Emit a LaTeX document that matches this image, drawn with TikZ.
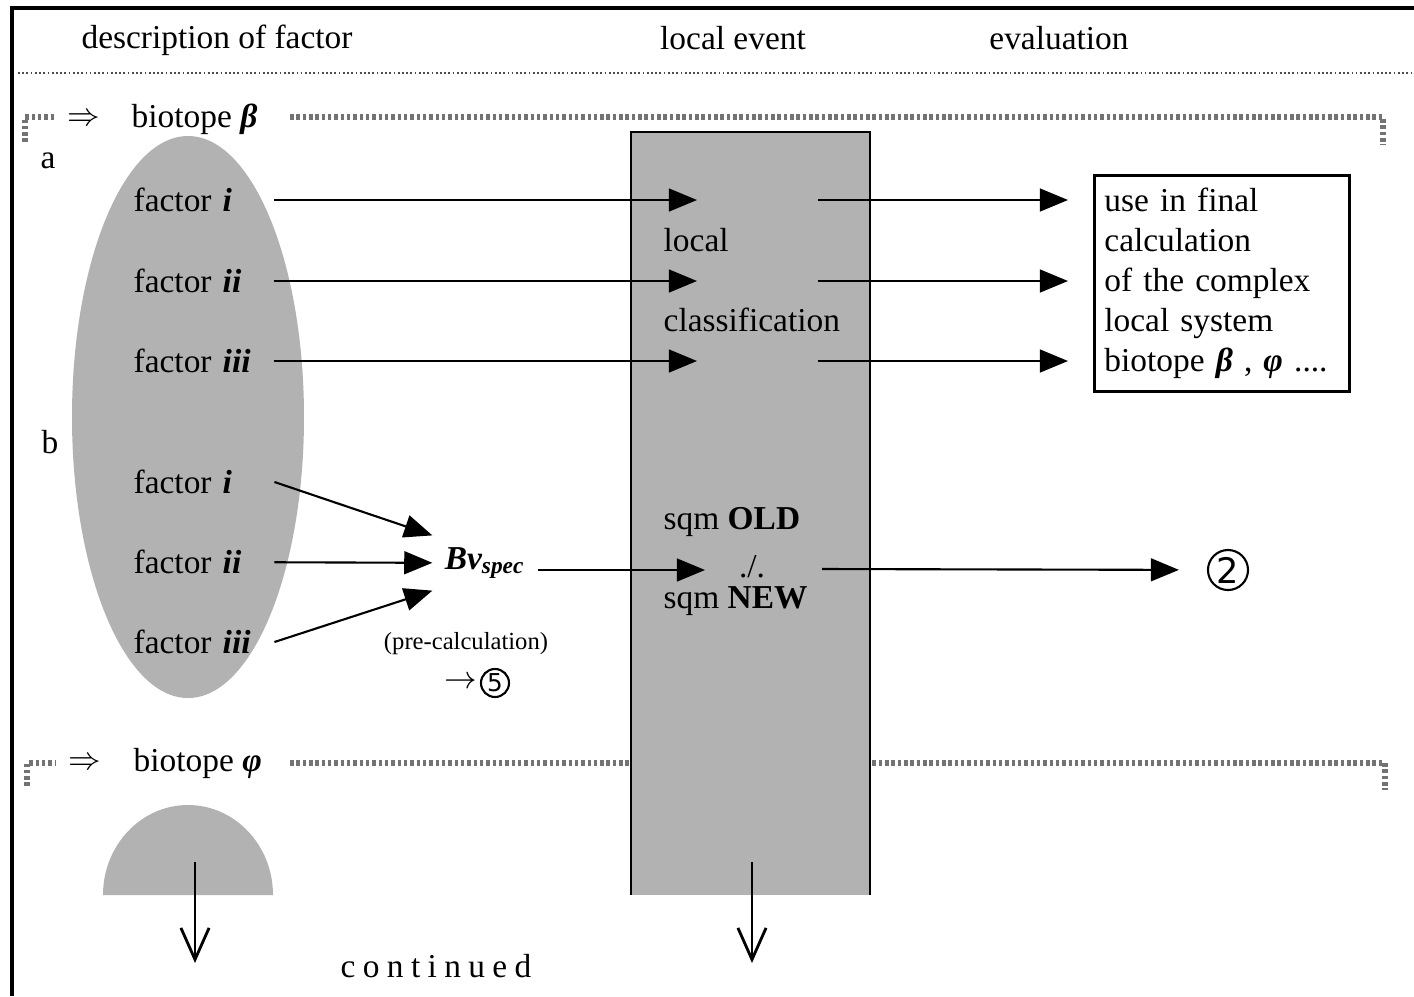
\documentclass[tikz,border=0pt]{standalone}
\usepackage{fontspec}
\setmainfont{Liberation Serif}
\newfontfamily\circfont{DejaVu Sans}
\usetikzlibrary{arrows.meta}

\begin{document}
\begin{tikzpicture}[x=0.01cm,y=-0.01cm,font=\fontsize{9.5}{11.4}\selectfont,
	fl/.style={semithick,-{Triangle[length=8pt,width=6.5pt]}},
	down/.style={thick,-{Straight Barb[length=9pt,width=8pt]}},
	trama/.style={fill=black!30},
	puntos/.style={line width=1.6pt,black!55,dash pattern=on 1pt off 0.8pt},
	sepline/.style={line width=0.6pt,black!70,dash pattern=on 0.5pt off 0.7pt},
	fac/.style={anchor=west,inner sep=0pt,text width=1.4cm},
	circnum/.style={circle,draw,semithick,inner sep=0pt,font=\circfont}]
	\useasboundingbox (0,0) rectangle (1414,996);
	%marco y cabecera
	\draw[line width=0.9pt] (12,996) -- (12,8) -- (1414,8);
	\draw[sepline] (18,73) -- (1414,73);
	\node (desc) at (217,40) {description of factor};
	\node (evento) at (733,38) {local event};
	\node (eval) at (1059,38) {evaluation};
	%biotopo beta
	\draw[puntos] (25,142) -- (25,117) -- (55,117);
	\node (implb) at (84,120) {$\Rightarrow$};
	\node[anchor=west,inner sep=0pt] (biob) at (131,119) {biotope \textbf{\textit{β}}};
	\draw[puntos] (290,117) -- (1383,117) -- (1383,145);
	%biotopo phi
	\draw[puntos] (27,786) -- (27,763) -- (55,763);
	\node (implp) at (85,764) {$\Rightarrow$};
	\node[anchor=west,inner sep=0pt] (biop) at (133,763) {biotope \textbf{\textit{φ}}};
	\draw[puntos] (290,763) -- (1385,763) -- (1385,790);
	%zonas grises
	\fill[trama] (188,417) ellipse [x radius=116, y radius=281];
	\fill[trama] (103,895) arc [start angle=180, end angle=360, x radius=85, y radius=90] -- cycle;
	\fill[trama] (631,132) rectangle (870,895);
	\draw[thick] (631,895) -- (631,132) -- (870,132) -- (870,895);
	\node (la) at (48,161) {a};
	\node (lb) at (50,442) {b};
	%caso a
	\node[fac] (fai) at (133,200) {factor \textbf{\textit{i}}};
	\node[fac] (faii) at (133,281) {factor \textbf{\textit{ii}}};
	\node[fac] (faiii) at (133,361) {factor \textbf{\textit{iii}}};
	\node[anchor=west,inner sep=0pt] (loc) at (663,240) {local};
	\node[anchor=west,inner sep=0pt] (clas) at (663,320) {classification};
	\node[draw,thick,anchor=north west,align=left,text width=2.35cm,inner xsep=0.1cm,minimum height=2.16cm] (uso) at (1093,174)
		{use in final\\calculation\\of the complex\\local system\\biotope \textbf{\textit{β}} , \textbf{\textit{φ}} ....};
	\coordinate (ea) at (697,0);
	\coordinate (sa) at (818,0);
	\draw[fl] (fai) -- (fai -| ea);
	\draw[fl] (faii) -- (faii -| ea);
	\draw[fl] (faiii) -- (faiii -| ea);
	\draw[fl,shorten >=0.25cm] (fai -| sa) -- (fai -| uso.west);
	\draw[fl,shorten >=0.25cm] (faii -| sa) -- (faii -| uso.west);
	\draw[fl,shorten >=0.25cm] (faiii -| sa) -- (faiii -| uso.west);
	%caso b
	\node[fac] (fbi) at (133,482) {factor \textbf{\textit{i}}};
	\node[fac] (fbii) at (133,562) {factor \textbf{\textit{ii}}};
	\node[fac] (fbiii) at (133,642) {factor \textbf{\textit{iii}}};
	\node (bv) at (485,563) {\textbf{\textit{Bv\textsubscript{spec}}}};
	\draw[fl] (fbi.east) -- (bv.north west);
	\draw[fl] (fbii) -- (bv);
	\draw[fl] (fbiii.east) -- (bv.south west);
	\node[font=\fontsize{7}{8}\selectfont] (pre) at (466,644) {(pre-calculation)};
	\node[circnum,minimum size=0.28cm,font=\circfont\fontsize{7}{7}\selectfont] (cinco) at (495,683) {5};
	\node[left=0.5pt,inner sep=0pt] (fcinco) at (cinco.west) {$\rightarrow$};
	\node[anchor=west,inner sep=0pt] (old) at (663,522) {sqm \textbf{OLD}};
	\node (div) at (752,567) {./.};
	\node[anchor=west,inner sep=0pt] (new) at (663,601) {sqm \textbf{NEW}};
	\node[circnum,minimum size=0.4cm,font=\circfont\fontsize{10}{10}\selectfont] (dos) at (1228,570) {2};
	\coordinate (eb) at (705,570);
	\coordinate (sb) at (822,569);
	\draw[fl] (bv.east |- eb) -- (eb);
	\draw[fl,shorten >=0.28cm] (sb) -- (dos);
	%continuacion
	\coordinate (d1a) at (195,862);
	\coordinate (d1b) at (195,963);
	\coordinate (d2a) at (752,862);
	\coordinate (d2b) at (752,963);
	\draw[down] (d1a) -- (d1b);
	\draw[down] (d2a) -- (d2b);
	\node (cont) at (436,966) {\addfontfeature{LetterSpace=22}continued};
\end{tikzpicture}
\end{document}
